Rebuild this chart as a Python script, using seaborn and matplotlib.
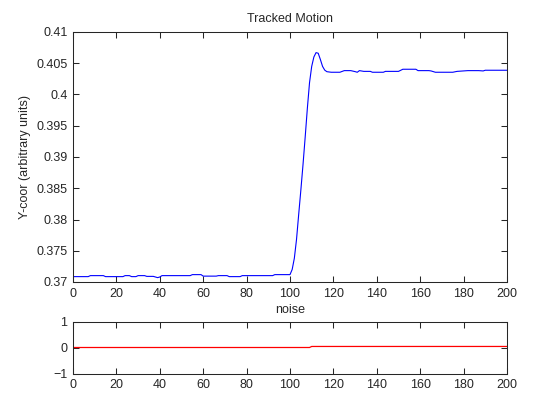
import pandas as pd
import seaborn as sb
import matplotlib.pyplot as plt

# tracked y coordinate (frame -> value)
frames = [0, 7, 8, 14, 15, 23, 24, 26, 27, 29, 30, 33, 34, 37, 38, 39, 40, 41,
          54, 55, 59, 60, 66, 67, 71, 72, 77, 78, 92, 93, 100,
          101, 102, 103, 104, 105, 106, 107, 108, 109, 110, 111, 112, 113,
          114, 115, 116, 117, 119, 123, 125, 128, 130, 131, 132, 134, 137,
          138, 143, 144, 150, 152, 158, 159, 164, 165, 167, 175, 177, 182,
          187, 189, 190, 200]
ycoor = [0.37086, 0.37086, 0.37102, 0.37102, 0.37086, 0.37086, 0.37102, 0.37102,
         0.37086, 0.37086, 0.37102, 0.37102, 0.37090, 0.37090, 0.37080, 0.37070,
         0.37080, 0.37102, 0.37102, 0.37118, 0.37118, 0.37094, 0.37094, 0.37102,
         0.37102, 0.37086, 0.37086, 0.37102, 0.37102, 0.37118, 0.37118,
         0.3720, 0.3738, 0.3768, 0.3808, 0.3847, 0.3888, 0.3932, 0.3978, 0.4019,
         0.4045, 0.4060, 0.4067, 0.4066, 0.4056, 0.4045, 0.4039, 0.40365,
         0.40356, 0.40356, 0.40382, 0.40382, 0.40366, 0.40356, 0.40382, 0.40370,
         0.40370, 0.40356, 0.40356, 0.40370, 0.40370, 0.40404, 0.40404, 0.40382,
         0.40382, 0.40377, 0.40356, 0.40356, 0.40370, 0.40382, 0.40382, 0.40377,
         0.40388, 0.40388]

noise_frames = [0, 109, 110, 200]
noise = [0, 0, 0.04, 0.04]

top_ticks = [0.37, 0.375, 0.38, 0.385, 0.39, 0.395, 0.4, 0.405, 0.41]
top_labels = ['0.37', '0.375', '0.38', '0.385', '0.39', '0.395', '0.4', '0.405', '0.41']

motion = pd.DataFrame({'frame': frames, 'y': ycoor})
nz = pd.DataFrame({'frame': noise_frames, 'noise': noise})

sb.set_style('ticks')
plt.rcParams['font.family'] = ['Liberation Sans', 'DejaVu Sans']
plt.rcParams['font.size'] = 9

fig = plt.figure(figsize=(5.6, 4.2), dpi=100)
ax1 = fig.add_axes([73/560, 1 - 282/420, 434/560, 250/420])
ax2 = fig.add_axes([73/560, 1 - 373.5/420, 434/560, 52/420])

sb.lineplot(data=motion, x='frame', y='y', ax=ax1, color='blue', linewidth=0.8)
sb.lineplot(data=nz, x='frame', y='noise', ax=ax2, color='red', linewidth=0.9)

ax1.set_xlim(0, 200)
ax1.set_ylim(0.37, 0.41)
ax1.set_yticks(top_ticks)
ax1.set_yticklabels(top_labels)
ax1.set_xticks(range(0, 201, 20))
ax1.set_title('Tracked Motion', fontsize=9, pad=7)
ax1.set_xlabel('')
ax1.set_ylabel('Y-coor (arbitrary units)', fontsize=9, labelpad=4)

ax2.set_xlim(0, 200)
ax2.set_ylim(-1, 1)
ax2.set_yticks([-1, 0, 1])
ax2.set_xticks(range(0, 201, 20))
ax2.set_title('noise', fontsize=9, pad=6)
ax2.set_xlabel('')
ax2.set_ylabel('')

for ax in (ax1, ax2):
    ax.tick_params(direction='in', length=4, width=0.75, top=True, right=True,
                   labelsize=9, pad=4)
    for s in ax.spines.values():
        s.set_linewidth(0.75)
        s.set_visible(True)

fig.savefig('out.png', dpi=100)
